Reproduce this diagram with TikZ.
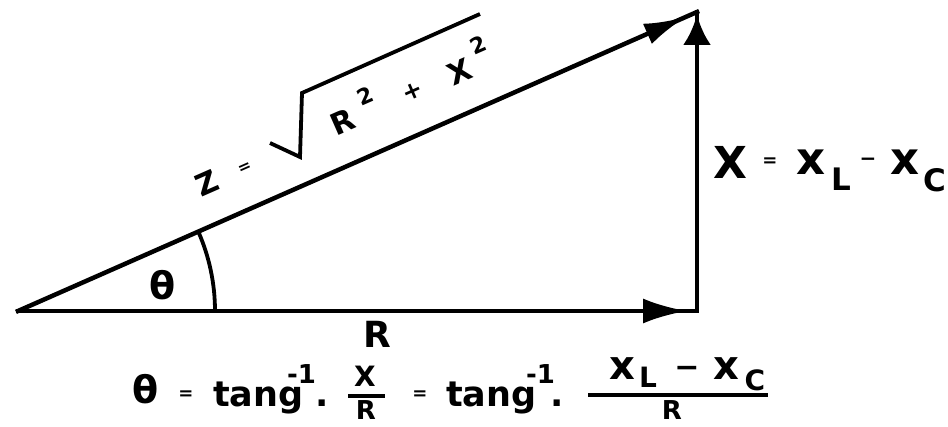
\documentclass[tikz,border=0pt]{standalone}
\usepackage{fontspec}
\setmainfont{DejaVu Sans}
\usetikzlibrary{arrows.meta,decorations.markings}
\newcommand{\fsz}[1]{\fontsize{#1}{#1}\selectfont\bfseries}
\begin{document}
\begin{tikzpicture}[x=1pt,y=1pt,
  lbl/.style={inner sep=0pt, outer sep=0pt},
  vec/.style={line width=4.5pt, line cap=rect},
  thin/.style={line width=3.8pt},
  arrowat/.style n args={3}{postaction={decorate},decoration={markings,
     mark=at position #1 with {\arrow{Latex[length=#2,width=#3]}}}}]
\useasboundingbox (0,0) rectangle (948,427);
% corners of the triangle
\coordinate (O) at (18,116);
\coordinate (B) at (697,116);
\coordinate (C) at (697,415);
% sides
\draw[vec, arrowat={-10pt}{44pt}{25pt}] (O) -- (B);
\draw[vec, arrowat={-3pt}{30pt}{28pt}] (B) -- (C);
\draw[vec, arrowat={-12pt}{42pt}{22pt}] (O) -- (C);
% angle arc
\draw[thin] (O) ++(0:197pt) arc[start angle=0, end angle=23.77, radius=197pt];
\node[lbl] (th) at (163,142) {\fsz{38}θ};
\node[lbl] (Rl) at (377,93) {\fsz{36}R};
% right label X = xL - xC
\node[lbl] (X1) at (730,265) {\fsz{44}X};
\node[lbl] (eq1) at (770,265) {\fsz{18}=};
\node[lbl] (xl) at (811,265) {\fsz{45}x};
\node[lbl] (L1) at (841,248) {\fsz{31}L};
\node[lbl] (mi1) at (868,265) {\fsz{20}−};
\node[lbl] (xc) at (905,265) {\fsz{45}x};
\node[lbl] (C1) at (935,247) {\fsz{31}C};
% hypotenuse label
\draw[thin, line join=miter] (270,284) -- (300,270) -- (302,334) -- (480,413);
\begin{scope}[shift={(O)}, rotate=23.77, transform shape]
\node[lbl] (Z) at (224.6,40.9) {\fsz{30}Z};
\node[lbl] (eq2) at (265.4,39.4) {\fsz{16}=};
\node[lbl] (R2) at (373.6,41.9) {\fsz{30}R};
\node[lbl] (s1) at (404.2,57.5) {\fsz{22}2};
\node[lbl] (pl) at (449.8,41.2) {\fsz{24}+};
\node[lbl] (X2) at (500.8,40.5) {\fsz{30}X};
\node[lbl] (s2) at (528.5,57.5) {\fsz{22}2};
\end{scope}
% formula
\node[lbl] (th2) at (146,38) {\fsz{38}θ};
\node[lbl] (eq3) at (186,32) {\fsz{18}=};
\node[lbl, anchor=base west] (tg1) at (213,20) {\fsz{35}tang};
\node[lbl, anchor=base west] (sp1) at (287,43) {\fsz{26}-1};
\node[lbl, anchor=base] (d1) at (322,20) {\fsz{35}.};
\node[lbl] (fx) at (365,51) {\fsz{28}X};
\draw[thin] (348,31) -- (385,31);
\node[lbl] (fr) at (366,17) {\fsz{26}R};
\node[lbl] (eq4) at (420,32) {\fsz{18}=};
\node[lbl, anchor=base west] (tg2) at (446,20) {\fsz{35}tang};
\node[lbl, anchor=base west] (sp2) at (526,43) {\fsz{26}-1};
\node[lbl, anchor=base] (d2) at (557,20) {\fsz{35}.};
\node[lbl] (nx1) at (622,58) {\fsz{40}x};
\node[lbl] (nL) at (648,50) {\fsz{28}L};
\node[lbl] (nm) at (687,55) {\fsz{30}−};
\node[lbl] (nx2) at (726,58) {\fsz{40}x};
\node[lbl] (nC) at (755,47) {\fsz{28}C};
\draw[thin] (588,32) -- (768,32);
\node[lbl] (fR2) at (672,17) {\fsz{26}R};
\end{tikzpicture}
\end{document}
